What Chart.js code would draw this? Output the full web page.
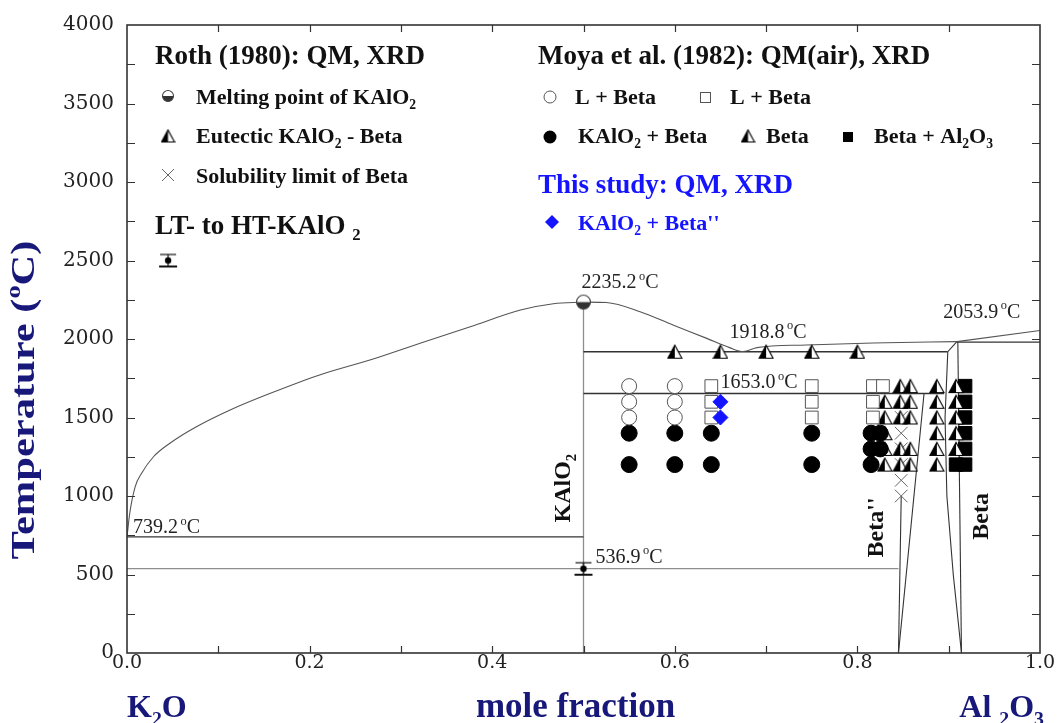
<!DOCTYPE html>
<html>
<head>
<meta charset="utf-8">
<script src="https://cdn.jsdelivr.net/npm/chart.js@4.4.1/dist/chart.umd.min.js"></script>
<style>
  html, body { margin: 0; padding: 0; background: #fff; }
  #wrap { width: 1057px; height: 723px; }
</style>
</head>
<body>
<div id="wrap"><canvas id="chart" width="1057" height="723"></canvas></div>
<script>
const FONT = "'Liberation Serif','Times New Roman',serif";
const TICKFONT = "'DejaVu Serif', serif";
const NAVY = '#18187a';
const BLUE = '#1414ff';

// liquidus, K2O side up to KAlO2 melting point
const liqLeftX = [0, 0.003, 0.009, 0.016, 0.029, 0.047, 0.076, 0.113, 0.157, 0.211, 0.266, 0.321, 0.376, 0.431, 0.467, 0.5];
const liqLeftT = [739.2, 890, 1060, 1145, 1250, 1336, 1441, 1548, 1654, 1771, 1866, 1973, 2078, 2185, 2225, 2235.2];
// liquidus, KAlO2 to Beta
const liqRightX = [0.5, 0.525, 0.562, 0.598, 0.635, 0.66, 0.675, 0.69, 0.744, 0.817, 0.909];
const liqRightT = [2235.2, 2232, 2174, 2089, 2004, 1945, 1920, 1945, 1962, 1975, 1983];
const liqHighX = [0.909, 1.0];
const liqHighT = [1983, 2053.9];

// invariant lines and phase boundaries
const eutHighX = [0.5, 0.899], eutHighT = [1918.8, 1918.8];
const perX = [0.5, 0.895], perT = [1653.0, 1653.0];
const eutLowX = [0, 0.5], eutLowT = [739.2, 739.2];
const transX = [0, 0.845], transT = [536.9, 536.9];
const kalo2X = [0.5, 0.5], kalo2T = [0, 2235.2];
const betaTopX = [0.909, 1.0], betaTopT = [1980, 1980];
const bppLeftX = [0.845, 0.848], bppLeftT = [0, 1000];
const bppRightX = [0.845, 0.873], bppRightT = [0, 1653];
const betaLeftX = [0.914, 0.905, 0.898, 0.896, 0.899, 0.909], betaLeftT = [0, 500, 1000, 1500, 1918.8, 1983];
const betaRightX = [0.914, 0.91], betaRightT = [0, 1983];

// Roth (1980)
const meltX = [0.5], meltT = [2235.2];
const rothTriX = [0.6, 0.65, 0.7, 0.75, 0.8];
const rothTriT = [1918.8, 1918.8, 1918.8, 1918.8, 1918.8];
const solX = [0.848, 0.848, 0.848, 0.848, 0.848, 0.848];
const solT = [1500, 1400, 1300, 1200, 1100, 1000];
const ltHtX = [0.045, 0.5];
const ltHtT = [2500, 536.9];

// Moya et al. (1982)
const liqCircX = [0.55, 0.55, 0.55, 0.6, 0.6, 0.6];
const liqCircT = [1700, 1600, 1500, 1700, 1600, 1500];
const liqSqX = [0.64, 0.64, 0.64, 0.75, 0.75, 0.75, 0.817, 0.817, 0.817, 0.828];
const liqSqT = [1700, 1600, 1500, 1700, 1600, 1500, 1700, 1600, 1500, 1700];
const kbX = [0.55, 0.55, 0.6, 0.6, 0.64, 0.64, 0.75, 0.75, 0.815, 0.815, 0.815, 0.825, 0.825];
const kbT = [1400, 1200, 1400, 1200, 1400, 1200, 1400, 1200, 1400, 1300, 1200, 1400, 1300];
const betaX = [0.83, 0.83, 0.83, 0.83, 0.83,
               0.847, 0.847, 0.847, 0.847, 0.847,
               0.858, 0.858, 0.858, 0.858, 0.858,
               0.887, 0.887, 0.887, 0.887, 0.887, 0.887,
               0.908, 0.908, 0.908, 0.908, 0.908];
const betaT = [1600, 1500, 1400, 1300, 1200,
               1700, 1600, 1500, 1300, 1200,
               1700, 1600, 1500, 1300, 1200,
               1700, 1600, 1500, 1400, 1300, 1200,
               1700, 1600, 1500, 1400, 1300];
const baX = [0.918, 0.918, 0.918, 0.918, 0.918, 0.918, 0.908];
const baT = [1700, 1600, 1500, 1400, 1300, 1200, 1200];

// This study
const studyX = [0.65, 0.65];
const studyT = [1600, 1500];

// axis ticks
const yTicks = [0, 500, 1000, 1500, 2000, 2500, 3000, 3500, 4000];
const xTicks = [0, 0.2, 0.4, 0.6, 0.8, 1.0];

// labelled temperatures
const tempLabelT = [739.2, 536.9, 2235.2, 1918.8, 1653.0, 2053.9];

const pts = (xs, ys) => xs.map((x, i) => ({ x: x, y: ys[i] }));

const mk = (w, h, draw) => {
  const c = document.createElement('canvas');
  c.width = w; c.height = h;
  draw(c.getContext('2d'), w, h);
  return c;
};

const halfTri = (s) => mk(s + 2, s + 2, (g, w, h) => {
  const l = 1, r = w - 1, t = 1.5, b = h - 1.5, m = w / 2;
  g.beginPath(); g.moveTo(l, b); g.lineTo(m, t); g.lineTo(r, b); g.closePath();
  g.fillStyle = '#fff'; g.fill();
  g.beginPath(); g.moveTo(l, b); g.lineTo(m, t); g.lineTo(m, b); g.closePath();
  g.fillStyle = '#000'; g.fill();
  g.beginPath(); g.moveTo(l, b); g.lineTo(m, t); g.lineTo(r, b); g.closePath();
  g.strokeStyle = '#000'; g.lineWidth = 1.1; g.stroke();
});

const halfCirc = (r) => mk(2 * r + 3, 2 * r + 3, (g, w, h) => {
  const c = w / 2;
  g.beginPath(); g.arc(c, c, r, 0, Math.PI * 2);
  g.fillStyle = '#fff'; g.fill();
  g.beginPath(); g.arc(c, c, r, 0, Math.PI);
  g.fillStyle = '#333'; g.fill();
  g.beginPath(); g.arc(c, c, r, 0, Math.PI * 2);
  g.strokeStyle = '#444'; g.lineWidth = 1.1; g.stroke();
});

const errBar = () => mk(22, 18, (g, w, h) => {
  g.strokeStyle = '#111';
  g.lineWidth = 1.2;
  g.beginPath(); g.moveTo(w / 2, 3); g.lineTo(w / 2, h - 3); g.stroke();
  g.beginPath(); g.moveTo(3, 3); g.lineTo(w - 3, 3); g.stroke();
  g.lineWidth = 2;
  g.beginPath(); g.moveTo(2, h - 3); g.lineTo(w - 2, h - 3); g.stroke();
  g.beginPath(); g.arc(w / 2, h / 2, 3.2, 0, Math.PI * 2);
  g.fillStyle = '#000'; g.fill();
});

const triImg = halfTri(14);
const triSmall = halfTri(13);
const meltImg = halfCirc(7);
const meltSmall = halfCirc(5.5);
const errImg = errBar();

const line = (xs, ys, color, width, smooth) => ({
  type: 'line',
  data: pts(xs, ys),
  borderColor: color,
  borderWidth: width,
  pointRadius: 0,
  fill: false,
  showLine: true,
  tension: 0,
  cubicInterpolationMode: smooth ? 'monotone' : 'default',
  order: 3
});

const marks = (xs, ys, style, radius, bg, border, bw, order) => ({
  type: 'scatter',
  data: pts(xs, ys),
  pointStyle: style,
  pointRadius: radius,
  backgroundColor: bg,
  borderColor: border,
  borderWidth: bw,
  showLine: false,
  order: order === undefined ? 2 : order
});

const LINE = '#333';
const GREY = '#8e8e8e';

const datasets = [
  line(liqLeftX, liqLeftT, '#555', 1.1, true),
  line(liqRightX, liqRightT, '#555', 1.1, true),
  line(liqHighX, liqHighT, '#555', 1.1, false),
  line(eutHighX, eutHighT, LINE, 1.4, false),
  line(perX, perT, LINE, 1.4, false),
  line(eutLowX, eutLowT, LINE, 1.2, false),
  line(transX, transT, GREY, 1.2, false),
  line(kalo2X, kalo2T, GREY, 1.3, false),
  line(betaTopX, betaTopT, LINE, 1.1, false),
  line(bppLeftX, bppLeftT, LINE, 1.1, false),
  line(bppRightX, bppRightT, LINE, 1.1, false),
  line(betaLeftX, betaLeftT, LINE, 1.1, false),
  line(betaRightX, betaRightT, LINE, 1.1, false),
  marks(liqCircX, liqCircT, 'circle', 7.5, '#fff', '#555', 1),
  marks(liqSqX, liqSqT, 'rect', 9, '#fff', '#555', 1),
  marks(kbX, kbT, 'circle', 8, '#000', '#000', 1),
  marks(betaX, betaT, triImg, 8, '#000', '#000', 1),
  marks(baX, baT, 'rect', 9.5, '#000', '#000', 1),
  marks(solX, solT, 'crossRot', 9, '#666', '#666', 1),
  marks(rothTriX, rothTriT, triImg, 8, '#000', '#000', 1),
  marks(meltX, meltT, meltImg, 8, '#000', '#000', 1),
  marks(ltHtX, ltHtT, errImg, 10, '#000', '#000', 1),
  marks(studyX, studyT, 'rectRot', 7.5, BLUE, BLUE, 1, 0)
];

const rich = (ctx, x, y, parts, size, weight, color, align) => {
  const f = (s) => (weight || 'normal') + ' ' + s + 'px ' + FONT;
  const sz = (m) => (m ? size * 0.62 : size);
  let w = 0;
  parts.forEach((p) => { ctx.font = f(sz(p[1])); w += ctx.measureText(p[0]).width; });
  let cx = align === 'center' ? x - w / 2 : (align === 'right' ? x - w : x);
  ctx.fillStyle = color;
  ctx.textAlign = 'left';
  ctx.textBaseline = 'alphabetic';
  parts.forEach((p) => {
    ctx.font = f(sz(p[1]));
    const dy = p[1] === 1 ? size * 0.24 : (p[1] === 2 ? -size * 0.42 : 0);
    ctx.fillText(p[0], cx, y + dy);
    cx += ctx.measureText(p[0]).width;
  });
};

const rotText = (ctx, x, y, parts, size, weight, color, stretch) => {
  ctx.save();
  ctx.translate(x, y);
  ctx.rotate(-Math.PI / 2);
  ctx.scale(stretch || 1, 1);
  rich(ctx, 0, size * 0.35, parts, size, weight, color, 'center');
  ctx.restore();
};

const degLabel = (v) => [[v.toFixed(1), 0], ['\u2009o', 2], ['C', 0]];

const decor = {
  id: 'decor',
  afterDatasetsDraw(chart) {
    const ctx = chart.ctx;
    const xs = chart.scales.x, ys = chart.scales.y;
    const a = chart.chartArea;
    ctx.save();

    // frame
    ctx.strokeStyle = '#333';
    ctx.lineWidth = 1.6;
    ctx.strokeRect(a.left, a.top, a.right - a.left, a.bottom - a.top);

    // inside ticks
    ctx.lineWidth = 1.2;
    ctx.beginPath();
    for (let t = 250; t < 4000; t += 250) {
      const py = Math.round(ys.getPixelForValue(t)) + 0.5;
      ctx.moveTo(a.left, py); ctx.lineTo(a.left + 8, py);
      ctx.moveTo(a.right, py); ctx.lineTo(a.right - 8, py);
    }
    for (let i = 1; i < 10; i++) {
      const px = Math.round(xs.getPixelForValue(i / 10)) + 0.5;
      ctx.moveTo(px, a.bottom); ctx.lineTo(px, a.bottom - 7);
      ctx.moveTo(px, a.top); ctx.lineTo(px, a.top + 7);
    }
    ctx.stroke();

    // temperature labels
    const X = (v) => xs.getPixelForValue(v), Y = (v) => ys.getPixelForValue(v);
    const tl = [
      [0, 6, -4], [0.5, 12, -6], [0.5, -2, -14], [0.66, 0, -14], [0.65, 0, -5], [0.894, 0, -13]
    ];
    tempLabelT.forEach((t, i) => {
      rich(ctx, X(tl[i][0]) + tl[i][1], Y(t) + tl[i][2], degLabel(t), 20, 'normal', '#222', 'left');
    });

    // phase labels
    rotText(ctx, X(0.476), Y(1050), [['KAlO', 0], ['2', 1]], 24, 'bold', '#111');
    rotText(ctx, X(0.819), Y(800), [["Beta''", 0]], 24, 'bold', '#111');
    rotText(ctx, X(0.934), Y(870), [['Beta', 0]], 24, 'bold', '#111');

    // legend block, Roth
    const big = 27, small = 22;
    rich(ctx, 155, 64, [['Roth (1980): QM, XRD', 0]], big, 'bold', '#111', 'left');
    ctx.drawImage(meltSmall, 168 - meltSmall.width / 2, 96 - meltSmall.height / 2);
    rich(ctx, 196, 104, [['Melting point of KAlO', 0], ['2', 1]], small, 'bold', '#111', 'left');
    ctx.drawImage(triSmall, 168 - triSmall.width / 2, 136 - triSmall.height / 2);
    rich(ctx, 196, 143, [['Eutectic KAlO', 0], ['2', 1], [' - Beta', 0]], small, 'bold', '#111', 'left');
    ctx.strokeStyle = '#666'; ctx.lineWidth = 1;
    ctx.beginPath();
    ctx.moveTo(162, 169); ctx.lineTo(174, 181); ctx.moveTo(174, 169); ctx.lineTo(162, 181);
    ctx.stroke();
    rich(ctx, 196, 183, [['Solubility limit of Beta', 0]], small, 'bold', '#111', 'left');
    rich(ctx, 155, 234, [['LT- to HT-KAlO ', 0], ['2', 1]], big, 'bold', '#111', 'left');

    // legend block, Moya
    rich(ctx, 538, 64, [['Moya et al. (1982): QM(air), XRD', 0]], big, 'bold', '#111', 'left');
    ctx.lineWidth = 1; ctx.strokeStyle = '#555'; ctx.fillStyle = '#fff';
    ctx.beginPath(); ctx.arc(550, 97, 6, 0, Math.PI * 2); ctx.fill(); ctx.stroke();
    rich(ctx, 575, 104, [['L + Beta', 0]], small, 'bold', '#111', 'left');
    ctx.strokeRect(700.5, 92.5, 10, 10);
    rich(ctx, 730, 104, [['L + Beta', 0]], small, 'bold', '#111', 'left');
    ctx.fillStyle = '#000';
    ctx.beginPath(); ctx.arc(550, 137, 6.5, 0, Math.PI * 2); ctx.fill();
    rich(ctx, 578, 143, [['KAlO', 0], ['2', 1], [' + Beta', 0]], small, 'bold', '#111', 'left');
    ctx.drawImage(triSmall, 748 - triSmall.width / 2, 136 - triSmall.height / 2);
    rich(ctx, 766, 143, [['Beta', 0]], small, 'bold', '#111', 'left');
    ctx.fillStyle = '#000';
    ctx.fillRect(843, 132, 10, 10);
    rich(ctx, 874, 143, [['Beta + Al', 0], ['2', 1], ['O', 0], ['3', 1]], small, 'bold', '#111', 'left');

    // legend block, this study
    rich(ctx, 538, 193, [['This study: QM, XRD', 0]], big, 'bold', BLUE, 'left');
    ctx.fillStyle = BLUE;
    ctx.beginPath();
    ctx.moveTo(552, 215); ctx.lineTo(559, 222); ctx.lineTo(552, 229); ctx.lineTo(545, 222);
    ctx.closePath(); ctx.fill();
    rich(ctx, 578, 230, [['KAlO', 0], ['2', 1], [" + Beta''", 0]], small, 'bold', BLUE, 'left');

    ctx.restore();
  },
  afterDraw(chart) {
    const ctx = chart.ctx;
    const a = chart.chartArea;
    ctx.save();
    rotText(ctx, 22, 400, [['Temperature (', 0], ['o', 2], ['C)', 0]], 34, 'bold', NAVY, 1.25);
    rich(ctx, a.left, 717, [['K', 0], ['2', 1], ['O', 0]], 32, 'bold', NAVY, 'left');
    rich(ctx, (a.left + a.right) / 2 - 8, 717, [['mole fraction', 0]], 35, 'bold', NAVY, 'center');
    rich(ctx, a.right + 4, 717, [['Al ', 0], ['2', 1], ['O', 0], ['3', 1]], 32, 'bold', NAVY, 'right');
    ctx.restore();
  }
};

new Chart(document.getElementById('chart').getContext('2d'), {
  type: 'scatter',
  data: { datasets: datasets },
  options: {
    responsive: false,
    animation: false,
    devicePixelRatio: 1,
    events: [],
    layout: { padding: { top: 25, right: 17, left: 0, bottom: 0 } },
    plugins: { legend: { display: false }, tooltip: { enabled: false } },
    scales: {
      x: {
        type: 'linear', min: 0, max: 1,
        afterBuildTicks: (s) => { s.ticks = xTicks.map((v) => ({ value: v })); },
        afterFit: (s) => { s.height = 70; },
        ticks: {
          callback: (v) => v.toFixed(1),
          font: { family: TICKFONT, size: 19 }, color: '#222', padding: -1, maxRotation: 0
        },
        grid: { drawOnChartArea: false, drawTicks: false },
        border: { display: false }
      },
      y: {
        type: 'linear', min: 0, max: 4000,
        afterBuildTicks: (s) => { s.ticks = yTicks.map((v) => ({ value: v })); },
        afterFit: (s) => { s.width = 127; },
        ticks: {
          callback: (v) => String(v),
          font: { family: TICKFONT, size: 20 }, color: '#222', padding: 13
        },
        grid: { drawOnChartArea: false, drawTicks: false },
        border: { display: false }
      }
    }
  },
  plugins: [decor]
});
</script>
</body>
</html>
